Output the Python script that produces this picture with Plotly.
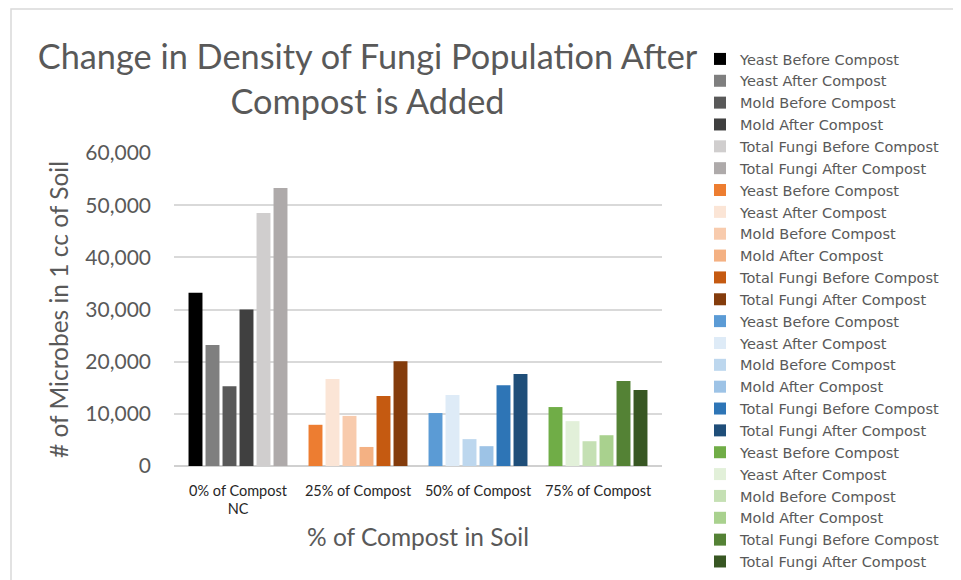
import plotly.graph_objects as go

categories = ["0% of Compost<br>NC", "25% of Compost", "50% of Compost", "75% of Compost"]
measures = ["Yeast Before Compost", "Yeast After Compost", "Mold Before Compost",
            "Mold After Compost", "Total Fungi Before Compost", "Total Fungi After Compost"]

# values per category group (6 measures each)
nc_values = [33200, 23200, 15300, 30000, 48500, 53300]
c25_values = [7900, 16700, 9600, 3650, 13400, 20100]
c50_values = [10150, 13600, 5150, 3800, 15500, 17650]
c75_values = [11300, 8600, 4750, 5900, 16300, 14550]

nc_colors = ["#000000", "#7f7f7f", "#595959", "#404040", "#d0cece", "#aeaaaa"]
c25_colors = ["#ed7d31", "#fbe5d6", "#f8cbad", "#f4b183", "#c55a11", "#843c0c"]
c50_colors = ["#5b9bd5", "#deebf7", "#bdd7ee", "#9dc3e6", "#2e75b6", "#1f4e79"]
c75_colors = ["#70ad47", "#e2f0d9", "#c5e0b4", "#a9d18e", "#548235", "#385723"]

y_ticks = [0, 10000, 20000, 30000, 40000, 50000, 60000]

FONT = "Lato"
GRAY = "#595959"

fig = go.Figure()
groups = [(categories[0], nc_values, nc_colors), (categories[1], c25_values, c25_colors),
          (categories[2], c50_values, c50_colors), (categories[3], c75_values, c75_colors)]
for cat, vals, cols in groups:
    for i, (m, v, c) in enumerate(zip(measures, vals, cols)):
        fig.add_trace(go.Bar(x=[cat], y=[v], name=m, marker=dict(color=c, line=dict(width=0)),
                             offsetgroup=str(i), legendgroup=cat + m, showlegend=True))

# the page body has an 8px margin; figure coordinates are image coordinates minus 8
OFF = 8
W, H = 961 - OFF, 580 - OFF
L, R, T, B = 174 - OFF, 662 - OFF, 153 - OFF, 466 - OFF
pw, ph = R - L, B - T

fig.update_layout(
    width=W, height=H,
    margin=dict(l=L, r=W - R, t=T, b=H - B, autoexpand=False),
    paper_bgcolor="white", plot_bgcolor="white",
    barmode="group", bargap=0.15, bargroupgap=0.18,
    font=dict(family=FONT, color=GRAY),
    title=dict(text="Change in Density of Fungi Population After<br>Compost is Added",
               x=(367.5 - OFF) / W, xref="container", xanchor="center",
               y=1 - 61 / H, yref="container", yanchor="middle",
               font=dict(family=FONT, size=34.3, color=GRAY)),
    legend=dict(x=(700 - OFF - L) / pw, xanchor="left", y=1 - 35 / H, yref="container", yanchor="top",
                font=dict(family="DejaVu Sans", size=14.5, color=GRAY), tracegroupgap=0,
                bgcolor="rgba(0,0,0,0)", itemclick=False, maxheight=H - 30),
    showlegend=True,
    xaxis=dict(categoryorder="array", categoryarray=categories,
               range=[-0.5333, 3.5333], showgrid=False, zeroline=False,
               showline=False, ticks="",
               tickfont=dict(family=FONT, size=14.5, color="#262626"),
               ticklabelstandoff=14,
               title=dict(text="% of Compost in Soil", font=dict(family=FONT, size=24.5, color=GRAY), standoff=12)),
    yaxis=dict(range=[0, 60000], tickvals=y_ticks, tickformat=",", showgrid=True,
               gridcolor="#d9d9d9", gridwidth=1.5, zeroline=True, zerolinecolor="#d0d0d0", zerolinewidth=1.5,
               showline=False, ticks="",
               tickfont=dict(family=FONT, size=21, color=GRAY), ticklabelstandoff=22,
               title=dict(text="# of Microbes in 1 cc of Soil", font=dict(family=FONT, size=24.5, color=GRAY), standoff=9)),
    shapes=[dict(type="rect", xref="paper", yref="paper",
                 x0=(11 - OFF - L) / pw, x1=(W + 5 - L) / pw,
                 y0=(B - (H + 5)) / ph, y1=(B - 1) / ph,
                 line=dict(color="#d9d9d9", width=1.5), fillcolor="rgba(0,0,0,0)", layer="below")],
)

fig.write_html("out.html")
